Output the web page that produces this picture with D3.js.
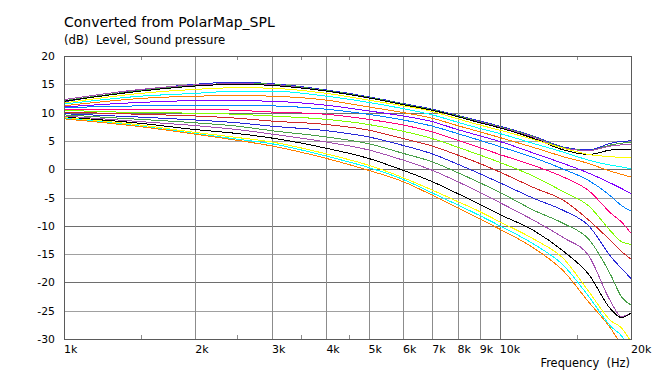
<!DOCTYPE html>
<html lang="en">

<head>
    <meta charset="UTF-8">
    <title>PolarMap_SPL</title>
    <script src="https://cdnjs.cloudflare.com/ajax/libs/d3/7.8.5/d3.min.js"></script>
    <style>
        body { margin: 0; background: #fff; }
        text { font-family: "DejaVu Sans", Verdana, sans-serif; fill: #000; }
    </style>
</head>

<body>
    <div id="chart"></div>
    <script>
        // frequency points (Hz) the curves were read at
        var freqs = [1000, 1500, 2000, 2500, 3000, 4000, 5000, 6000, 7000, 8000, 9000, 10000, 12000, 14000, 16000, 18000, 19000, 20000];

        // SPL (dB) per polar angle, top curve first
        var deg0  = [11.9, 14.0, 15.0, 15.4, 15.1, 14.0, 12.8, 11.6, 10.6, 9.5, 8.5, 7.6, 5.8, 3.9, 3.4, 4.6, 4.9, 5.0];
        var deg5  = [12.1, 13.9, 14.8, 15.2, 15.0, 13.9, 12.7, 11.5, 10.5, 9.4, 8.4, 7.5, 5.7, 3.8, 3.3, 4.3, 4.6, 4.7];
        var deg10 = [12.3, 14.1, 14.9, 15.1, 14.9, 13.8, 12.6, 11.4, 10.4, 9.3, 8.3, 7.4, 5.6, 3.7, 3.3, 4.1, 4.3, 4.4];
        var deg15 = [12.0, 13.8, 14.7, 15.0, 14.8, 13.8, 12.6, 11.4, 10.4, 9.3, 8.2, 7.3, 5.4, 3.4, 2.6, 3.4, 3.5, 3.5];
        var deg20 = [11.7, 13.4, 14.1, 14.4, 14.3, 13.4, 12.2, 11.2, 10.2, 8.9, 7.8, 6.9, 5.2, 3.7, 2.6, 2.2, 2.1, 2.1];
        var deg25 = [11.5, 12.9, 13.4, 13.8, 13.8, 12.9, 11.8, 10.7, 9.6, 8.3, 7.2, 6.3, 4.5, 3.0, 1.6, 0.7, 0.4, 0.1];
        var deg30 = [11.2, 12.5, 12.9, 13.0, 12.9, 12.2, 11.0, 10.0, 9.0, 7.7, 6.6, 5.6, 3.8, 2.2, 1.0, -0.4, -0.9, -1.4];
        var deg35 = [11.0, 11.8, 12.1, 12.1, 12.0, 11.3, 10.3, 9.4, 8.4, 7.0, 5.9, 4.9, 2.8, 1.0, -0.7, -2.5, -3.4, -4.3];
        var deg40 = [10.9, 11.2, 11.3, 11.3, 11.2, 10.6, 9.7, 8.7, 7.6, 6.3, 5.1, 4.0, 2.0, 0.0, -2.0, -4.8, -6.4, -7.4];
        var deg45 = [10.6, 10.6, 10.6, 10.4, 10.1, 9.7, 8.8, 7.8, 6.6, 5.1, 3.8, 2.6, 0.6, -1.4, -3.8, -7.8, -9.3, -11.3];
        var deg50 = [10.4, 10.0, 9.9, 9.7, 9.4, 8.8, 7.9, 6.7, 5.4, 3.9, 2.5, 1.2, -1.3, -4.0, -6.5, -11.0, -12.8, -13.3];
        var deg55 = [10.1, 9.7, 9.4, 9.0, 8.5, 7.9, 6.9, 5.4, 4.1, 2.5, 1.0, -0.5, -3.3, -5.5, -9.0, -12.7, -14.5, -15.9];
        var deg60 = [9.8, 9.2, 8.7, 8.2, 7.6, 6.8, 5.7, 4.2, 2.7, 0.9, -0.8, -2.4, -5.2, -7.3, -10.0, -15.5, -17.5, -19.3];
        var deg65 = [9.6, 8.8, 8.2, 7.6, 6.8, 5.7, 4.5, 2.8, 1.3, -0.6, -2.4, -4.1, -7.3, -9.6, -12.4, -18.8, -22.5, -24.0];
        var deg70 = [9.4, 8.4, 7.7, 7.0, 6.2, 4.8, 3.4, 1.6, -0.2, -2.2, -4.1, -5.9, -9.1, -12.1, -15.3, -23.5, -26.0, -25.5];
        var deg75 = [9.2, 8.1, 7.0, 6.3, 5.5, 3.7, 1.9, -0.2, -2.2, -4.3, -6.2, -8.0, -10.9, -14.5, -18.6, -24.8, -26.2, -25.4];
        var deg80 = [9.1, 7.8, 6.5, 5.6, 4.8, 2.7, 0.7, -1.5, -3.7, -5.7, -7.5, -9.3, -12.4, -15.8, -21.6, -26.8, -28.0, -30.5];
        var deg85 = [9.0, 7.6, 6.3, 5.3, 4.5, 2.3, 0.3, -1.8, -4.2, -6.3, -8.2, -10.0, -13.3, -17.0, -22.5, -27.8, -29.4, -32.0];
        var deg90 = [8.9, 7.5, 6.2, 5.1, 4.1, 1.9, -0.2, -2.2, -4.6, -6.8, -8.8, -10.6, -14.0, -18.0, -23.5, -28.2, -31.0, -33.0];

        var series = [deg0, deg5, deg10, deg15, deg20, deg25, deg30, deg35, deg40, deg45,
            deg50, deg55, deg60, deg65, deg70, deg75, deg80, deg85, deg90];

        // colour cycle used by the plot, repeats every 12 curves
        var colors = ["#2828d8", "#48a048", "#a450b0", "#000000", "#ffff00", "#00ffff",
            "#ff8000", "#8000ff", "#0080ff", "#ff0080", "#80ff00", "#d02828"];

        var yTicks = [20, 15, 10, 5, 0, -5, -10, -15, -20, -25, -30];
        var gridFreqs = [2000, 3000, 4000, 5000, 6000, 7000, 8000, 9000, 10000];
        var minorFreqs = [1500, 2500, 3500, 4500, 15000];
        var xTickValues = [1000, 2000, 3000, 4000, 5000, 6000, 7000, 8000, 9000, 10000, 20000];
        var xTickLabels = ["1k", "2k", "3k", "4k", "5k", "6k", "7k", "8k", "9k", "10k", "20k"];

        var width = 654;
        var height = 374;
        var plotLeft = 64, plotRight = 631, plotTop = 56, plotBottom = 339;

        var x = d3.scaleLog().domain([1000, 20000]).range([plotLeft, plotRight]);
        var y = d3.scaleLinear().domain([-30, 20]).range([plotBottom, plotTop]);

        var svg = d3
            .select("#chart")
            .append("svg")
            .attr("width", width)
            .attr("height", height);

        svg.append("clipPath")
            .attr("id", "plot")
            .append("rect")
            .attr("x", plotLeft)
            .attr("y", plotTop)
            .attr("width", plotRight - plotLeft)
            .attr("height", plotBottom - plotTop);

        var px = v => Math.round(v) + 0.5;

        // horizontal grid, every 10 dB drawn darker
        svg.append("g")
            .selectAll("line")
            .data(yTicks.slice(1, -1))
            .enter()
            .append("line")
            .attr("x1", plotLeft)
            .attr("x2", plotRight)
            .attr("y1", d => px(y(d)))
            .attr("y2", d => px(y(d)))
            .attr("stroke", d => d % 10 === 0 ? "#6e6e6e" : "#a0a0a0")
            .attr("stroke-width", 1);

        // vertical grid
        svg.append("g")
            .selectAll("line")
            .data(gridFreqs)
            .enter()
            .append("line")
            .attr("x1", d => px(x(d)))
            .attr("x2", d => px(x(d)))
            .attr("y1", plotTop)
            .attr("y2", plotBottom)
            .attr("stroke", d => d === 10000 ? "#6e6e6e" : "#8c8c8c")
            .attr("stroke-width", 1);

        // small ticks top and bottom
        var minor = svg.append("g").attr("stroke", "#8c8c8c");
        minorFreqs.forEach(function (f) {
            minor.append("line")
                .attr("x1", px(x(f))).attr("x2", px(x(f)))
                .attr("y1", plotBottom - 4).attr("y2", plotBottom);
            minor.append("line")
                .attr("x1", px(x(f))).attr("x2", px(x(f)))
                .attr("y1", plotTop).attr("y2", plotTop + 4);
        });

        var line = d3.line()
            .x((d, i) => x(freqs[i]))
            .y(d => y(d))
            .curve(d3.curveMonotoneX);

        svg.append("g")
            .attr("clip-path", "url(#plot)")
            .selectAll("path")
            .data(series)
            .enter()
            .append("path")
            .attr("d", line)
            .attr("fill", "none")
            .attr("stroke", (d, i) => colors[i % colors.length])
            .attr("stroke-width", 1)
            .attr("shape-rendering", "crispEdges");

        // frame
        svg.append("rect")
            .attr("x", plotLeft + 0.5)
            .attr("y", plotTop + 0.5)
            .attr("width", plotRight - plotLeft)
            .attr("height", plotBottom - plotTop)
            .attr("fill", "none")
            .attr("stroke", "#5a5a5a")
            .attr("stroke-width", 1);

        // y labels
        svg.append("g")
            .selectAll("text")
            .data(yTicks)
            .enter()
            .append("text")
            .attr("x", 55)
            .attr("y", d => y(d) + 4)
            .attr("text-anchor", "end")
            .attr("font-size", "10.8px")
            .text(d => d);

        // x labels, placed to the right of their tick
        svg.append("g")
            .selectAll("text")
            .data(xTickValues)
            .enter()
            .append("text")
            .attr("x", d => x(d))
            .attr("y", 353)
            .attr("font-size", "11px")
            .text((d, i) => xTickLabels[i]);

        svg.append("text")
            .attr("x", 630)
            .attr("y", 367)
            .attr("text-anchor", "end")
            .attr("font-size", "11.4px")
            .attr("xml:space", "preserve")
            .text("Frequency  (Hz)");

        svg.append("text")
            .attr("x", 64)
            .attr("y", 27)
            .attr("font-size", "14px")
            .text("Converted from PolarMap_SPL");

        svg.append("text")
            .attr("x", 64)
            .attr("y", 44)
            .attr("font-size", "11.7px")
            .attr("xml:space", "preserve")
            .text("(dB)  Level, Sound pressure");
    </script>
</body>

</html>
